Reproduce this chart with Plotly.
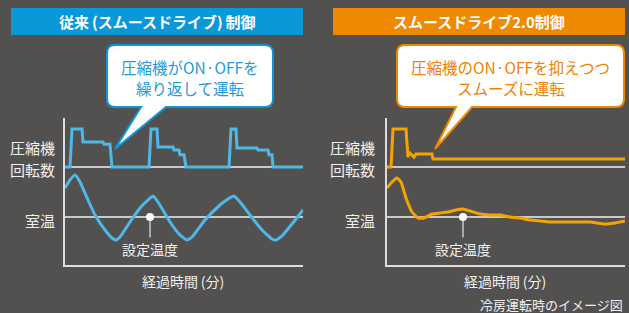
import plotly.graph_objects as go

W, H = 629, 313
BG = "#53514f"
BLUE_BAR = "#0a98d8"
BLUE_LINE = "#4cb9e8"
BLUE_TXT = "#1f9bd7"
ORANGE_BAR = "#ef8a00"
ORANGE_LINE = "#f3a400"
ORANGE_TXT = "#ef8200"
AXIS_COL = "#dcdcdc"
FONT = "Noto Sans CJK JP"

# ---------------- data ----------------
SET_TEMP = 26.0

# conventional control (left)
conv_comp_t = [0, 2.5, 3.5, 8.5, 9, 19, 19.5, 22.5, 23.5, 42, 43, 46, 46.5, 54, 54.5, 57, 57.5,
               59.5, 60.5, 82, 83, 85.5, 86, 96, 96.5, 101.5, 102, 103.5, 104, 119]
conv_comp_v = [0, 0, 100, 100, 66, 66, 60, 60, 0, 0, 100, 100, 53, 53, 45, 45, 32,
               32, 0, 0, 100, 100, 50, 50, 45, 45, 32, 32, 0, 0]
conv_temp_t = [0, 2.5, 5, 7.5, 11.5, 15, 20, 23.5, 25.5, 27.5, 32.5, 37.5, 41.5, 44, 46.5, 52.5,
               57.5, 61, 63.5, 70, 77.5, 81.5, 84.5, 87.5, 92.5, 98.5, 103.5, 105.5, 108.5, 113.5, 119]
conv_temp_v = [27.16, 27.48, 27.68, 27.4, 26.68, 26.08, 25.48, 25.16, 25.08, 25.2, 25.8, 26.36,
               26.68, 26.84, 26.6, 25.8, 25.28, 25.08, 25.2, 25.88, 26.48, 26.72, 26.84, 26.6,
               26.08, 25.48, 25.12, 25.08, 25.24, 25.72, 26.28]

# smooth drive 2.0 (right)
sd_comp_t = [0, 2, 3, 9.5, 10.5, 11, 12, 13.5, 14.5, 22.5, 23, 119]
sd_comp_v = [0, 0, 100, 100, 26, 39, 34, 26, 34, 34, 21, 21]
sd_temp_t = [0, 2.5, 5, 7, 9.5, 12.5, 15.5, 18.5, 22.5, 26.5, 30.5, 34.5, 38, 41.5, 46.5, 51.5,
             56.5, 61.5, 66.5, 71.5, 76.5, 81.5, 86.5, 94, 101.5, 109, 114, 119]
sd_temp_v = [27.16, 27.4, 27.56, 27.4, 26.76, 26.2, 25.96, 25.96, 26.12, 26.16, 26.2, 26.28,
             26.32, 26.24, 26.12, 26.08, 26.08, 26.0, 25.96, 25.88, 25.84, 25.8, 25.8, 25.8,
             25.8, 25.72, 25.76, 25.84]

conv_dot_t = 42.5
sd_dot_t = 38.0

titles = ["従来\u2009(スムースドライブ)\u2009制御", "スムースドライブ2.0制御"]
bubble_lines = [["圧縮機がON·OFFを", "繰り返して運転"], ["圧縮機のON·OFFを抑えつつ", "スムーズに運転"]]
comp_label = ["圧縮機", "回転数"]
temp_label = "室温"
set_label = "設定温度"
x_label = "経過時間\u2009(分)"
note = "冷房運転時のイメージ図"

# ---------------- helpers ----------------
def fx(x):
    return x / W

def fy(y):
    return 1 - y / H

# scale: compressor 0 at py 167, 100 at py 129  -> 0.38 px/unit
comp_range = [-21, 129]
comp_dom = [fy(175), fy(118)]
# temperature: 1 deg = 25 px, set temp at py 217
temp_range = [SET_TEMP - 48 / 25, SET_TEMP + 52 / 25]
temp_dom = [fy(265), fy(165)]

fig = go.Figure()

panels = [
    dict(x0=65, x1=303, xa="x", ya_c="y", ya_t="y2", color=BLUE_LINE,
         ct=conv_comp_t, cv=conv_comp_v, tt=conv_temp_t, tv=conv_temp_v, dot=conv_dot_t,
         bar=(11, 303), barcol=BLUE_BAR, title=titles[0],
         bub=(107, 45, 273, 107), tail=(141, 166, 115, 149), blines=bubble_lines[0], bcol=BLUE_BAR,
         tcol=BLUE_TXT, lab_x=57, xlab_x=183),
    dict(x0=387, x1=625, xa="x2", ya_c="y3", ya_t="y4", color=ORANGE_LINE,
         ct=sd_comp_t, cv=sd_comp_v, tt=sd_temp_t, tv=sd_temp_v, dot=sd_dot_t,
         bar=(333, 625), barcol=ORANGE_BAR, title=titles[1],
         bub=(397, 45, 624, 107), tail=(456, 472, 435, 149), blines=bubble_lines[1], bcol=ORANGE_BAR,
         tcol=ORANGE_TXT, lab_x=377, xlab_x=505),
]

layout_axes = {}
shapes = []
annotations = []

def axname(ref):
    return "xaxis" + ref[1:] if ref.startswith("x") else "yaxis" + ref[1:]

for p in panels:
    # traces
    fig.add_trace(go.Scatter(x=p["ct"], y=p["cv"], xaxis=p["xa"], yaxis=p["ya_c"], mode="lines",
                             line=dict(color=p["color"], width=3), hoverinfo="skip", showlegend=False))
    fig.add_trace(go.Scatter(x=p["tt"], y=p["tv"], xaxis=p["xa"], yaxis=p["ya_t"], mode="lines",
                             line=dict(color=p["color"], width=3, shape="spline", smoothing=0.4),
                             hoverinfo="skip", showlegend=False))
    fig.add_trace(go.Scatter(x=[p["dot"]], y=[SET_TEMP], xaxis=p["xa"], yaxis=p["ya_t"], mode="markers",
                             marker=dict(color="white", size=8), hoverinfo="skip", showlegend=False))

    # axes
    common = dict(showline=True, linecolor=AXIS_COL, linewidth=1.5, showgrid=False, zeroline=False,
                  showticklabels=False, ticks="", fixedrange=True)
    layout_axes[axname(p["xa"])] = dict(domain=[fx(p["x0"]), fx(p["x1"])], range=[0, 119],
                                        anchor=p["ya_t"], **common)
    layout_axes[axname(p["ya_c"])] = dict(domain=comp_dom, range=comp_range, anchor=p["xa"], **common)
    layout_axes[axname(p["ya_t"])] = dict(domain=temp_dom, range=temp_range, anchor=p["xa"], **common)

    # reference lines
    shapes.append(dict(type="line", xref=p["xa"] + " domain", yref=p["ya_c"], x0=0, x1=1, y0=0, y1=0,
                       line=dict(color="#f2f2f2", width=1.5), layer="below"))
    shapes.append(dict(type="line", xref=p["xa"] + " domain", yref=p["ya_t"], x0=0, x1=1,
                       y0=SET_TEMP, y1=SET_TEMP, line=dict(color="#f2f2f2", width=1.5), layer="below"))

    # title bar
    bx0, bx1 = p["bar"]
    shapes.append(dict(type="rect", xref="paper", yref="paper", x0=fx(bx0), x1=fx(bx1), y0=fy(35), y1=fy(8),
                       fillcolor=p["barcol"], line=dict(width=0), layer="below"))
    annotations.append(dict(text=p["title"], xref="paper", yref="paper", x=fx((bx0 + bx1) / 2), y=fy(21.5),
                            showarrow=False, xanchor="center", yanchor="middle",
                            font=dict(family=FONT, size=15, color="white", weight="bold")))

    # speech bubble
    x0, y0, x1, y1 = p["bub"]
    t0, t1, tx, ty = p["tail"]
    r = 8
    pts = [("M", x0 + r, y0), ("L", x1 - r, y0), ("Q", x1, y0, x1, y0 + r), ("L", x1, y1 - r),
           ("Q", x1, y1, x1 - r, y1), ("L", t1, y1), ("L", tx, ty), ("L", t0, y1), ("L", x0 + r, y1),
           ("Q", x0, y1, x0, y1 - r), ("L", x0, y0 + r), ("Q", x0, y0, x0 + r, y0)]
    path = ""
    for seg in pts:
        cmd = seg[0]
        coords = seg[1:]
        parts = []
        for i in range(0, len(coords), 2):
            parts.append(f"{fx(coords[i]):.5f},{fy(coords[i + 1]):.5f}")
        path += cmd + " " + " ".join(parts) + " "
    path += "Z"
    shapes.append(dict(type="path", xref="paper", yref="paper", path=path, fillcolor="white",
                       line=dict(color=p["bcol"], width=2), layer="above"))
    for line_txt, ly in zip(p["blines"], (67, 88)):
        annotations.append(dict(text=line_txt, xref="paper", yref="paper", x=fx((x0 + x1) / 2), y=fy(ly),
                                showarrow=False, xanchor="center", yanchor="middle", borderpad=0,
                                font=dict(family=FONT, size=15.5, color=p["tcol"])))

    # axis labels
    lab_font = dict(family=FONT, size=15, color="#f0f0f0")
    annotations.append(dict(text=comp_label[0], xref="paper", yref="paper", x=fx(p["lab_x"]), y=fy(148),
                            showarrow=False, xanchor="right", yanchor="middle", font=lab_font))
    annotations.append(dict(text=comp_label[1], xref="paper", yref="paper", x=fx(p["lab_x"]), y=fy(169),
                            showarrow=False, xanchor="right", yanchor="middle", font=lab_font))
    annotations.append(dict(text=temp_label, xref="paper", yref="paper", x=fx(p["lab_x"]), y=fy(220),
                            showarrow=False, xanchor="right", yanchor="middle", font=lab_font))
    annotations.append(dict(text=x_label, xref="paper", yref="paper", x=fx(p["xlab_x"]), y=fy(281),
                            showarrow=False, xanchor="center", yanchor="middle",
                            font=dict(family=FONT, size=14, color="#f0f0f0")))
    # set-temperature callout
    annotations.append(dict(text=set_label, x=p["dot"], y=SET_TEMP, xref=p["xa"], yref=p["ya_t"],
                            showarrow=True, arrowhead=0, arrowwidth=1.5, arrowcolor="#c8c8c8",
                            ax=0, ay=32, standoff=4,
                            font=dict(family=FONT, size=14, color="#f0f0f0")))

annotations.append(dict(text=note, xref="paper", yref="paper", x=fx(625), y=fy(304), showarrow=False,
                        xanchor="right", yanchor="middle", font=dict(family=FONT, size=13, color="#f0f0f0")))

fig.update_layout(width=W, height=H, margin=dict(l=0, r=0, t=0, b=0), autosize=False,
                  paper_bgcolor=BG, plot_bgcolor="rgba(0,0,0,0)", showlegend=False,
                  shapes=shapes, annotations=annotations, **layout_axes)

fig.write_html("out.html", config={"displayModeBar": False},
               post_script="document.body.style.margin='0';document.body.style.overflow='hidden';")
